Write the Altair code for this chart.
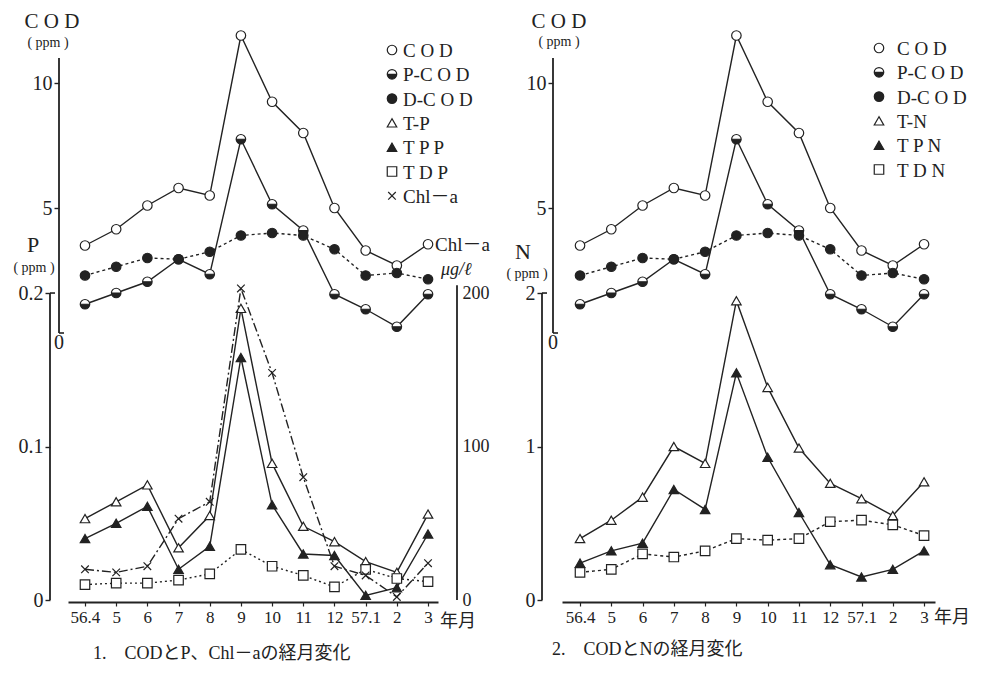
import altair as alt
import pandas as pd

FONT = "Liberation Serif, Noto Sans CJK JP, serif"
INK = "#222222"

# ---------------- data ----------------
months = ['56.4', '5', '6', '7', '8', '9', '10', '11', '12', '57.1', '2', '3']

cod   = [3.5, 4.15, 5.1, 5.8, 5.5, 11.9, 9.25, 8.0, 5.0, 3.3, 2.7, 3.55]
p_cod = [1.15, 1.6, 2.05, 2.95, 2.35, 7.75, 5.15, 4.1, 1.55, 0.95, 0.25, 1.55]
d_cod = [2.3, 2.65, 3.0, 2.95, 3.25, 3.9, 4.0, 3.9, 3.35, 2.3, 2.4, 2.15]

t_p   = [0.053, 0.064, 0.075, 0.034, 0.055, 0.19, 0.089, 0.048, 0.038, 0.025, 0.018, 0.056]
tpp   = [0.040, 0.050, 0.061, 0.020, 0.035, 0.158, 0.062, 0.030, 0.029, 0.003, 0.008, 0.043]
tdp   = [0.010, 0.011, 0.011, 0.013, 0.017, 0.033, 0.022, 0.016, 0.0085, 0.020, 0.014, 0.012]
chl_a = [20, 18, 22, 53, 64, 203, 148, 80, 22, 16, 2, 24]

t_n = [0.40, 0.52, 0.67, 1.0, 0.89, 1.95, 1.385, 0.99, 0.76, 0.66, 0.55, 0.77]
tpn = [0.24, 0.32, 0.37, 0.72, 0.59, 1.48, 0.93, 0.57, 0.23, 0.15, 0.20, 0.32]
tdn = [0.18, 0.20, 0.30, 0.28, 0.32, 0.40, 0.39, 0.40, 0.51, 0.52, 0.49, 0.42]

captions = ["1.\u3000CODとP、Chl－aの経月変化", "2.\u3000CODとNの経月変化"]


def frame(series):
    rows = []
    for name, vals in series:
        for i, v in enumerate(vals):
            rows.append({"i": i, "series": name, "value": v})
    return pd.DataFrame(rows)


df_cod = frame([("COD", cod), ("P-COD", p_cod), ("D-COD", d_cod)])
df_p = frame([("T-P", t_p), ("TPP", tpp), ("TDP", tdp)])
df_chl = frame([("Chl-a", chl_a)])
df_n = frame([("T-N", t_n), ("TPN", tpn), ("TDN", tdn)])
ONE = pd.DataFrame({"k": [0]})

# ---------------- styling helpers ----------------
HALF = "M-1,0A1,1 0 0,0 1,0Z M-1,0A1,1 0 0,1 1,0A1,1 0 0,0 -1,0Z"
XSHAPE = "M-0.8,-0.8L0.8,0.8M-0.8,0.8L0.8,-0.8"
SHAPES = {"COD": "circle", "P-COD": HALF, "D-COD": "circle", "T-P": "triangle-up",
          "TPP": "triangle-up", "TDP": "square", "Chl-a": XSHAPE,
          "T-N": "triangle-up", "TPN": "triangle-up", "TDN": "square"}
FILLS = {"COD": "white", "P-COD": INK, "D-COD": INK, "T-P": "white", "TPP": INK,
         "TDP": "white", "Chl-a": INK, "T-N": "white", "TPN": INK, "TDN": "white"}
LABELS = {"COD": "C O D", "P-COD": "P-C O D", "D-COD": "D-C O D", "T-P": "T-P",
          "TPP": "T P P", "TDP": "T D P", "Chl-a": "Chl－a", "T-N": "T-N",
          "TPN": "T P N", "TDN": "T D N"}
DASHES = {"COD": None, "P-COD": None, "D-COD": [3, 3], "T-P": None, "TPP": None,
          "TDP": [2, 3], "Chl-a": [9, 3, 2, 3], "T-N": None, "TPN": None, "TDN": [3, 3]}

XLABEL = "[" + ",".join("'%s'" % m for m in months) + "][datum.value]"

H = 588
COD_SCALE = alt.Scale(domain=[-10.76, 12.76], nice=False, zero=False)
P_SCALE = alt.Scale(domain=[-0.0013, 0.3818], nice=False, zero=False)
CHL_SCALE = alt.Scale(domain=[-1.3, 381.8], nice=False, zero=False)
N_SCALE = alt.Scale(domain=[-0.013, 3.818], nice=False, zero=False)


def yaxis(orient, offset, values, expr=None, ticks=True, pad=2, size=20):
    kw = dict(orient=orient, offset=offset, values=values, domain=False, grid=False,
              title=None, ticks=ticks, tickColor=INK, tickWidth=1.4, labelFont=FONT,
              labelFontSize=size, labelColor=INK, labelPadding=pad)
    if ticks:
        kw["tickSize"] = 5
    if expr:
        kw["labelExpr"] = expr
    return alt.Axis(**kw)


COD_AXIS = yaxis("left", 9, [5, 10])
P_AXIS = yaxis("left", 18, [0, 0.1, 0.2],
               "datum.value == 0 ? '0' : format(datum.value, '.1f')")
CHL_AXIS = yaxis("right", 19, [0, 100, 200], ticks=False, pad=5, size=18)
N_AXIS = yaxis("left", 20, [0, 1, 2])


def xenc(domain):
    return alt.X("i:Q", scale=alt.Scale(domain=domain, nice=False, zero=False),
                 axis=alt.Axis(values=list(range(12)), labelExpr=XLABEL, title=None,
                               grid=False, domain=True, domainColor=INK, domainWidth=1.8,
                               ticks=True, tickSize=4, tickColor=INK, tickWidth=1.2,
                               labelFont=FONT, labelFontSize=17, labelColor=INK,
                               labelPadding=3, labelFlush=False, labelOverlap=False))


def text_at(x, y, s, size, **kw):
    return alt.Chart(ONE).mark_text(font=FONT, fontSize=size, color=INK, **kw).encode(
        x=alt.value(x), y=alt.value(y), text=alt.value(s))


def style_encs(names):
    shape_enc = alt.Shape("series:N", scale=alt.Scale(domain=names,
                          range=[SHAPES[n] for n in names]), legend=None)
    fill_enc = alt.Fill("series:N", scale=alt.Scale(domain=names,
                        range=[FILLS[n] for n in names]), legend=None)
    return shape_enc, fill_enc


def group(df, names, X, scale, axis, shape_enc, fill_enc, rule_x, rule_top,
          zero_label=False, half_under=False, bracket=False):
    def Y():
        return alt.Y("value:Q", scale=scale, axis=axis)

    def YD(v):
        return alt.YDatum(v, type="quantitative", scale=scale, axis=axis)

    layers = []
    for n in names:
        mk = dict(color=INK, strokeWidth=1.4)
        if DASHES[n]:
            mk["strokeDash"] = DASHES[n]
        layers.append(alt.Chart(df).transform_filter(alt.datum.series == n)
                      .mark_line(**mk).encode(x=X, y=Y()))
    if half_under:
        layers.append(alt.Chart(df).transform_filter(alt.datum.series == "P-COD")
                      .mark_point(filled=True, shape="circle", size=90, fill="white",
                                  strokeWidth=0, opacity=1)
                      .encode(x=X, y=Y()))
    layers.append(alt.Chart(df).mark_point(filled=True, size=90, stroke=INK,
                                           strokeWidth=1.2, opacity=1)
                  .encode(x=X, y=Y(), shape=shape_enc, fill=fill_enc))
    # axis line drawn as a rule between the axis' end values
    layers.append(alt.Chart(ONE).mark_rule(color=INK, strokeWidth=1.8)
                  .encode(x=alt.value(rule_x), y=YD(0), y2=alt.Y2Datum(rule_top)))
    if bracket:
        layers.append(alt.Chart(ONE).mark_rule(color=INK, strokeWidth=1.6)
                      .encode(x=alt.value(rule_x), x2=alt.value(rule_x + 5), y=YD(rule_top)))
    if zero_label:
        layers.append(alt.Chart(ONE).mark_rule(color=INK, strokeWidth=1.6)
                      .encode(x=alt.value(rule_x), x2=alt.value(rule_x + 5), y=YD(0)))
        layers.append(alt.Chart(ONE).mark_text(font=FONT, fontSize=20, color=INK,
                                               align="left", baseline="top", dy=0)
                      .encode(x=alt.value(rule_x - 5), y=YD(0), text=alt.value("0")))
    return alt.layer(*layers)


def key(names, sx, tx, y0, step, shape_enc, fill_enc):
    kdf = pd.DataFrame({"series": names, "label": [LABELS[n] for n in names]})
    ky = alt.Y("series:N", axis=None,
               scale=alt.Scale(type="point", domain=names, padding=0,
                               range=[y0, y0 + step * (len(names) - 1)]))
    sym = alt.Chart(kdf).mark_point(filled=True, size=90, stroke=INK, strokeWidth=1.2,
                                    opacity=1).encode(
        x=alt.value(sx), y=ky, shape=shape_enc, fill=fill_enc)
    lab = alt.Chart(kdf).mark_text(font=FONT, fontSize=19, color=INK, align="left",
                                   baseline="middle", dy=1).encode(
        x=alt.value(tx), y=ky, text="label:N")
    return alt.layer(sym, lab)


def caption_title(text, dx):
    return alt.TitleParams(text=text, orient="bottom", anchor="start", frame="group",
                           dx=dx, offset=14, font=FONT, fontSize=18,
                           fontWeight="normal", color=INK)


# ---------------- left panel ----------------
WL = 370
XL = xenc([-0.545, 11.32])
names_L = ["COD", "P-COD", "D-COD", "T-P", "TPP", "TDP", "Chl-a"]
shL, fiL = style_encs(names_L)

left = alt.layer(
    group(df_cod, ["COD", "P-COD", "D-COD"], XL, COD_SCALE, COD_AXIS, shL, fiL,
          -9, 11.0, zero_label=True, half_under=True),
    group(df_p, ["T-P", "TPP", "TDP"], XL, P_SCALE, P_AXIS, shL, fiL, -18, 0.2,
          bracket=True),
    group(df_chl, ["Chl-a"], XL, CHL_SCALE, CHL_AXIS, shL, fiL, WL + 19, 205),
    key(names_L, 324, 335, 36, 24.3, shL, fiL),
    text_at(-16, 8, "C O D", 21),
    text_at(-20, 29, "( ppm )", 14),
    text_at(-35, 231, "P", 22),
    text_at(-34, 254, "( ppm )", 14),
    text_at(367, 231, "Chl－a", 19, align="left"),
    text_at(373, 256, "μg/ℓ", 18, align="left", fontStyle="italic"),
    text_at(372, 608, "年月", 18, align="left"),
).resolve_scale(y="independent").properties(
    width=WL, height=H, title=caption_title(captions[0], 25))

# ---------------- right panel ----------------
WR = 373
XR = xenc([-0.576, 11.35])
names_R = ["COD", "P-COD", "D-COD", "T-N", "TPN", "TDN"]
shR, fiR = style_encs(names_R)

right = alt.layer(
    group(df_cod, ["COD", "P-COD", "D-COD"], XR, COD_SCALE, COD_AXIS, shR, fiR,
          -9, 11.0, zero_label=True, half_under=True),
    group(df_n, ["T-N", "TPN", "TDN"], XR, N_SCALE, N_AXIS, shR, fiR, -20, 2,
          bracket=True),
    key(names_R, 317, 335, 34, 24.3, shR, fiR),
    text_at(-3, 8, "C O D", 21),
    text_at(-3, 28, "( ppm )", 14),
    text_at(-39, 238, "N", 22),
    text_at(-35, 260, "( ppm )", 14),
    text_at(372, 604, "年月", 18, align="left"),
).resolve_scale(y="independent").properties(
    width=WR, height=H, title=caption_title(captions[1], -10))

chart = alt.hconcat(left, right, spacing=16).resolve_scale(
    shape="independent", fill="independent").configure_view(
    stroke="transparent", strokeWidth=0).configure(
    background="white", style={"cell": {"stroke": "transparent", "strokeWidth": 0}}).properties(
    padding={"left": 5, "top": 3, "right": 0, "bottom": 5})

chart.save("out.html", embed_options={"renderer": "svg", "actions": False})
